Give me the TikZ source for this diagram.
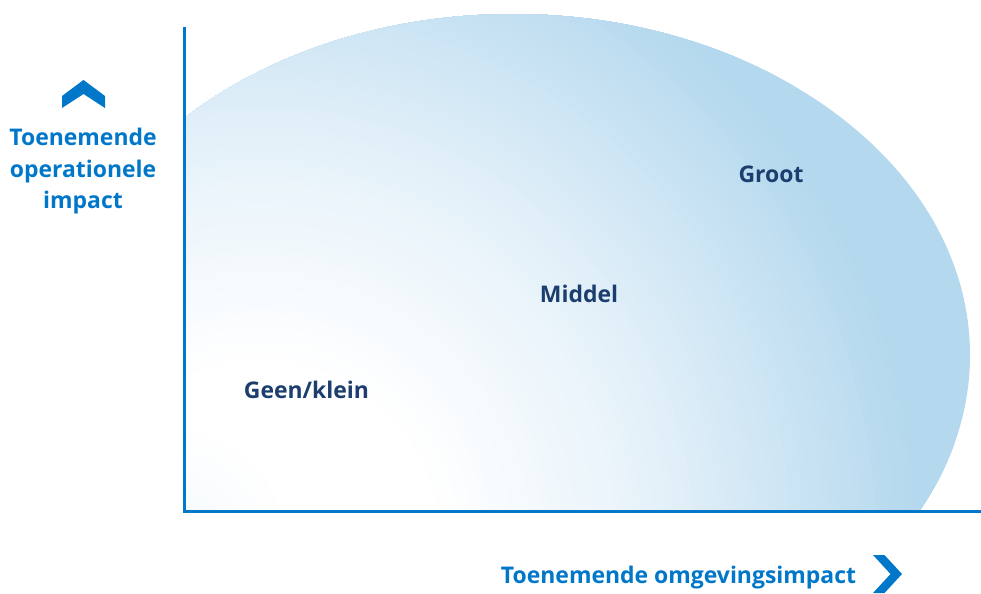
\documentclass[tikz,border=0pt]{standalone}
\usepackage{fontspec}
\setmainfont{Open Sans}
\definecolor{axisblue}{HTML}{0077C8}
\definecolor{navy}{HTML}{1B3E6F}
\definecolor{paleblue}{HTML}{B4D8EE}
\begin{document}
\begin{tikzpicture}[x=0.75pt,y=-0.75pt,
  axis/.style={draw=axisblue,line width=2.25pt,line join=miter},
  chevron/.style={fill=axisblue},
  axislabel/.style={text=axisblue,font=\bfseries\fontsize{17.2}{23.6}\selectfont,align=center,inner sep=0pt},
  zonelabel/.style={text=navy,font=\bfseries\fontsize{17.2}{23.6}\selectfont,inner sep=0pt,anchor=base}]
\useasboundingbox (0,0) rectangle (981,593);

% impact zone: ellipse cut off by the two axes
\begin{scope}
  \clip (184,0) rectangle (981,511);
  \clip (513,355) ellipse [x radius=457, y radius=341];
  \fill[paleblue] (0,0) rectangle (981,593);
  % glow: rings from pale blue (outside) to white (lower left)
  \foreach \i in {0,...,79}{
    \pgfmathsetmacro{\ringrad}{700-6.5*\i}
    \pgfmathsetmacro{\rampa}{35*min(1,max(0,(\ringrad-180)/220))}
    \pgfmathsetmacro{\rampb}{40*min(1,max(0,(\ringrad-400)/160))}
    \pgfmathsetmacro{\rampc}{25*min(1,max(0,(\ringrad-560)/100))}
    \pgfmathtruncatemacro{\ringpct}{\rampa+\rampb+\rampc}
    \fill[paleblue!\ringpct!white] (260,540) circle [radius=\ringrad];
  }
  \fill[white] (260,540) circle [radius=180];
  % faint tint in the corner of the axes
  \foreach \j in {0,...,19}{
    \pgfmathsetmacro{\tintrad}{125-5*\j}
    \pgfmathsetmacro{\tintpct}{0.6*\j}
    \fill[paleblue!\tintpct!white] (170,545) circle [radius=\tintrad];
  }
\end{scope}

% axes
\coordinate (ytop) at (184.5,27);
\coordinate (origin) at (184.5,511.5);
\coordinate (xend) at (981,511.5);
\draw[axis] (ytop) -- (origin) -- (xend);

% direction chevrons
\fill[chevron] (62,96) -- (83.5,80) -- (105,96) -- (105,108) -- (83.5,94) -- (62,108) -- cycle;
\fill[chevron] (873,555) -- (884.5,555) -- (902,574) -- (884.5,593) -- (873,593) -- (890.5,574) -- cycle;

% axis labels
\node[axislabel] (ylabel) at (83,171.5) {Toenemende\\operationele\\impact};
\node[axislabel,anchor=base] (xlabel) at (678.5,583) {Toenemende omgevingsimpact};

% zone labels
\node[zonelabel] (groot) at (771,182) {Groot};
\node[zonelabel] (middel) at (579,302) {Middel};
\node[zonelabel] (klein) at (306.5,398) {Geen/klein};
\end{tikzpicture}
\end{document}
